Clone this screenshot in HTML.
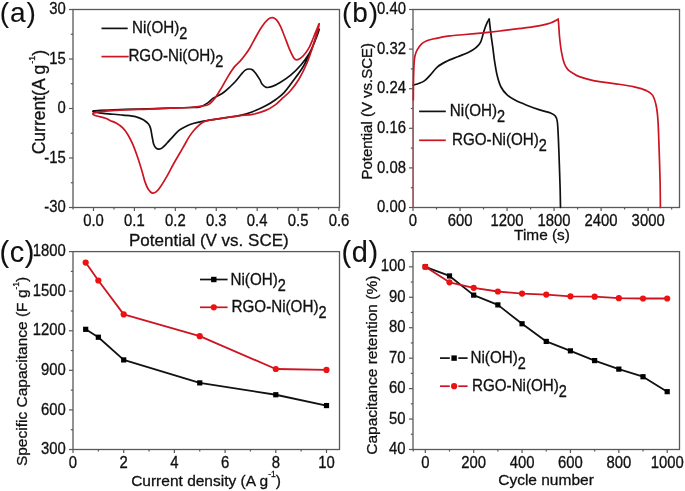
<!DOCTYPE html>
<html><head><meta charset="utf-8"><style>
html,body{margin:0;padding:0;background:#fff;overflow:hidden;}
svg{display:block;will-change:transform;}
text{font-family:"Liberation Sans", sans-serif;fill:#111;stroke:#111;stroke-width:0.3px;}
</style></head><body>
<svg width="685" height="491" viewBox="0 0 685 491">
<rect width="685" height="491" fill="#fff"/>
<rect x="73.00" y="9.50" width="266.50" height="198.00" fill="none" stroke="#595959" stroke-width="1.3"/>
<rect x="413.00" y="9.50" width="266.50" height="198.00" fill="none" stroke="#595959" stroke-width="1.3"/>
<rect x="73.00" y="251.60" width="266.50" height="197.90" fill="none" stroke="#595959" stroke-width="1.3"/>
<rect x="413.00" y="251.60" width="266.50" height="197.90" fill="none" stroke="#595959" stroke-width="1.3"/>
<path d="M93.50,110.80 C94.62,110.57 97.25,110.53 100.00,110.40 C102.75,110.27 105.83,110.17 110.00,110.00 C114.17,109.83 118.67,109.58 125.00,109.40 C131.33,109.22 140.50,109.10 148.00,108.90 C155.50,108.70 163.00,108.43 170.00,108.20 C177.00,107.97 185.00,107.72 190.00,107.50 C195.00,107.28 197.08,107.63 200.00,106.90 C202.92,106.17 205.37,104.52 207.50,103.10 C209.63,101.68 210.97,99.65 212.80,98.40 C214.63,97.15 216.60,96.67 218.50,95.60 C220.40,94.53 222.30,93.43 224.20,92.00 C226.10,90.57 228.00,88.78 229.90,87.00 C231.80,85.22 233.70,83.43 235.60,81.30 C237.50,79.17 239.63,76.10 241.30,74.20 C242.97,72.30 244.28,70.77 245.60,69.90 C246.92,69.03 248.02,68.98 249.20,69.00 C250.38,69.02 251.52,69.13 252.70,70.00 C253.88,70.87 255.08,72.55 256.30,74.20 C257.52,75.85 259.02,78.22 260.00,79.90 C260.98,81.58 261.15,83.05 262.20,84.30 C263.25,85.55 264.60,87.05 266.30,87.40 C268.00,87.75 270.03,87.25 272.40,86.40 C274.77,85.55 277.45,84.17 280.50,82.30 C283.55,80.43 287.30,78.08 290.70,75.20 C294.10,72.32 297.83,68.57 300.90,65.00 C303.97,61.43 306.72,57.88 309.10,53.80 C311.48,49.72 313.52,44.58 315.20,40.50 C316.88,36.42 319.03,29.97 319.20,29.30 C319.37,28.63 317.55,32.93 316.20,36.50 C314.85,40.07 313.30,45.62 311.10,50.70 C308.90,55.78 306.05,61.90 303.00,67.00 C299.95,72.10 295.95,77.03 292.80,81.30 C289.65,85.57 286.87,89.62 284.10,92.60 C281.33,95.58 279.27,97.00 276.20,99.20 C273.13,101.40 269.63,103.72 265.70,105.80 C261.77,107.88 256.98,110.07 252.60,111.70 C248.22,113.33 243.78,114.62 239.40,115.60 C235.02,116.58 230.68,116.93 226.30,117.60 C221.92,118.27 217.27,118.93 213.10,119.60 C208.93,120.27 204.48,121.00 201.30,121.60 C198.12,122.20 196.43,122.48 194.00,123.20 C191.57,123.92 189.15,124.73 186.70,125.90 C184.25,127.07 181.55,128.47 179.30,130.20 C177.05,131.93 175.23,134.17 173.20,136.30 C171.17,138.43 168.93,141.07 167.10,143.00 C165.27,144.93 163.52,146.88 162.20,147.90 C160.88,148.92 160.22,149.07 159.20,149.10 C158.18,149.13 157.02,148.92 156.10,148.10 C155.18,147.28 154.35,146.05 153.70,144.20 C153.05,142.35 152.72,139.62 152.20,137.00 C151.68,134.38 151.22,130.67 150.60,128.50 C149.98,126.33 149.60,125.38 148.50,124.00 C147.40,122.62 146.05,121.40 144.00,120.20 C141.95,119.00 139.70,117.65 136.20,116.80 C132.70,115.95 128.12,115.63 123.00,115.10 C117.88,114.57 110.00,114.05 105.50,113.60 C101.00,113.15 98.03,112.70 96.00,112.40 C93.97,112.10 93.72,112.07 93.30,111.80 C92.88,111.53 92.38,111.03 93.50,110.80Z" fill="none" stroke="#111" stroke-width="1.7" stroke-linejoin="round" stroke-linecap="round" />
<path d="M93.40,113.30 C94.02,112.90 94.98,112.57 97.00,112.20 C99.02,111.83 100.83,111.50 105.50,111.10 C110.17,110.70 117.92,110.13 125.00,109.80 C132.08,109.47 140.50,109.37 148.00,109.10 C155.50,108.83 163.00,108.47 170.00,108.20 C177.00,107.93 185.00,107.80 190.00,107.50 C195.00,107.20 197.23,106.77 200.00,106.40 C202.77,106.03 204.93,105.77 206.60,105.30 C208.27,104.83 208.72,104.63 210.00,103.60 C211.28,102.57 212.88,100.92 214.30,99.10 C215.72,97.28 217.08,94.95 218.50,92.70 C219.92,90.45 221.13,88.45 222.80,85.60 C224.47,82.75 226.60,78.68 228.50,75.60 C230.40,72.52 232.30,69.47 234.20,67.10 C236.10,64.73 238.00,63.53 239.90,61.40 C241.80,59.27 243.92,56.58 245.60,54.30 C247.28,52.02 248.25,50.67 250.00,47.70 C251.75,44.73 254.07,40.07 256.10,36.50 C258.13,32.93 260.17,29.18 262.20,26.30 C264.23,23.42 266.60,20.65 268.30,19.20 C270.00,17.75 271.03,17.50 272.40,17.60 C273.77,17.70 275.15,18.35 276.50,19.80 C277.85,21.25 279.15,23.52 280.50,26.30 C281.85,29.08 283.07,32.60 284.60,36.50 C286.13,40.40 288.17,46.13 289.70,49.70 C291.23,53.27 292.62,56.20 293.80,57.90 C294.98,59.60 295.62,59.90 296.80,59.90 C297.98,59.90 299.53,58.92 300.90,57.90 C302.27,56.88 303.63,55.50 305.00,53.80 C306.37,52.10 307.75,50.25 309.10,47.70 C310.45,45.15 311.75,41.73 313.10,38.50 C314.45,35.27 316.18,30.75 317.20,28.30 C318.22,25.85 319.20,23.12 319.20,23.80 C319.20,24.48 318.22,28.77 317.20,32.40 C316.18,36.03 314.80,40.50 313.10,45.60 C311.40,50.70 309.37,57.40 307.00,63.00 C304.63,68.60 301.73,74.48 298.90,79.20 C296.07,83.92 292.68,88.18 290.00,91.30 C287.32,94.42 285.32,95.60 282.80,97.90 C280.28,100.20 277.75,103.02 274.90,105.10 C272.05,107.18 269.42,108.87 265.70,110.40 C261.98,111.93 256.98,113.43 252.60,114.30 C248.22,115.17 243.78,115.05 239.40,115.60 C235.02,116.15 230.68,116.93 226.30,117.60 C221.92,118.27 216.48,119.03 213.10,119.60 C209.72,120.17 207.93,120.40 206.00,121.00 C204.07,121.60 202.68,122.48 201.50,123.20 C200.32,123.92 200.15,124.13 198.90,125.30 C197.65,126.47 195.63,128.27 194.00,130.20 C192.37,132.13 190.73,134.35 189.10,136.90 C187.47,139.45 185.83,142.65 184.20,145.50 C182.57,148.35 181.08,150.92 179.30,154.00 C177.52,157.08 175.55,160.30 173.50,164.00 C171.45,167.70 169.17,172.40 167.00,176.20 C164.83,180.00 162.27,184.22 160.50,186.80 C158.73,189.38 157.77,190.65 156.40,191.70 C155.03,192.75 153.65,193.52 152.30,193.10 C150.95,192.68 149.52,191.07 148.30,189.20 C147.08,187.33 146.08,185.02 145.00,181.90 C143.92,178.78 143.02,174.57 141.80,170.50 C140.58,166.43 139.20,161.85 137.70,157.50 C136.20,153.15 134.43,148.20 132.80,144.40 C131.17,140.60 129.53,137.42 127.90,134.70 C126.27,131.98 124.90,130.00 123.00,128.10 C121.10,126.20 118.67,124.57 116.50,123.30 C114.33,122.03 111.83,121.35 110.00,120.50 C108.17,119.65 107.70,118.95 105.50,118.20 C103.30,117.45 98.83,116.60 96.80,116.00 C94.77,115.40 93.87,115.05 93.30,114.60 C92.73,114.15 92.78,113.70 93.40,113.30Z" fill="none" stroke="#cc1422" stroke-width="1.7" stroke-linejoin="round" stroke-linecap="round" />
<line x1="69.00" y1="9.50" x2="73.00" y2="9.50" stroke="#595959" stroke-width="1.2" />
<text transform="translate(65.70,14.10) scale(0.965,1.12)" font-size="15.4" text-anchor="end" >30</text>
<line x1="69.00" y1="59.00" x2="73.00" y2="59.00" stroke="#595959" stroke-width="1.2" />
<text transform="translate(65.70,63.60) scale(0.965,1.12)" font-size="15.4" text-anchor="end" >15</text>
<line x1="69.00" y1="108.50" x2="73.00" y2="108.50" stroke="#595959" stroke-width="1.2" />
<text transform="translate(65.70,113.10) scale(0.965,1.12)" font-size="15.4" text-anchor="end" >0</text>
<line x1="69.00" y1="158.00" x2="73.00" y2="158.00" stroke="#595959" stroke-width="1.2" />
<text transform="translate(65.70,162.60) scale(0.965,1.12)" font-size="15.4" text-anchor="end" >-15</text>
<line x1="69.00" y1="207.50" x2="73.00" y2="207.50" stroke="#595959" stroke-width="1.2" />
<text transform="translate(65.70,212.10) scale(0.965,1.12)" font-size="15.4" text-anchor="end" >-30</text>
<line x1="70.80" y1="34.25" x2="73.00" y2="34.25" stroke="#595959" stroke-width="1.2" />
<line x1="70.80" y1="83.75" x2="73.00" y2="83.75" stroke="#595959" stroke-width="1.2" />
<line x1="70.80" y1="133.25" x2="73.00" y2="133.25" stroke="#595959" stroke-width="1.2" />
<line x1="70.80" y1="182.75" x2="73.00" y2="182.75" stroke="#595959" stroke-width="1.2" />
<line x1="93.50" y1="207.50" x2="93.50" y2="211.00" stroke="#595959" stroke-width="1.2" />
<text transform="translate(93.50,225.80) scale(0.965,1.12)" font-size="15.4" text-anchor="middle" >0.0</text>
<line x1="134.42" y1="207.50" x2="134.42" y2="211.00" stroke="#595959" stroke-width="1.2" />
<text transform="translate(134.42,225.80) scale(0.965,1.12)" font-size="15.4" text-anchor="middle" >0.1</text>
<line x1="175.34" y1="207.50" x2="175.34" y2="211.00" stroke="#595959" stroke-width="1.2" />
<text transform="translate(175.34,225.80) scale(0.965,1.12)" font-size="15.4" text-anchor="middle" >0.2</text>
<line x1="216.26" y1="207.50" x2="216.26" y2="211.00" stroke="#595959" stroke-width="1.2" />
<text transform="translate(216.26,225.80) scale(0.965,1.12)" font-size="15.4" text-anchor="middle" >0.3</text>
<line x1="257.18" y1="207.50" x2="257.18" y2="211.00" stroke="#595959" stroke-width="1.2" />
<text transform="translate(257.18,225.80) scale(0.965,1.12)" font-size="15.4" text-anchor="middle" >0.4</text>
<line x1="298.10" y1="207.50" x2="298.10" y2="211.00" stroke="#595959" stroke-width="1.2" />
<text transform="translate(298.10,225.80) scale(0.965,1.12)" font-size="15.4" text-anchor="middle" >0.5</text>
<line x1="339.02" y1="207.50" x2="339.02" y2="211.00" stroke="#595959" stroke-width="1.2" />
<text transform="translate(339.02,225.80) scale(0.965,1.12)" font-size="15.4" text-anchor="middle" >0.6</text>
<line x1="73.04" y1="207.50" x2="73.04" y2="209.50" stroke="#595959" stroke-width="1.2" />
<line x1="113.96" y1="207.50" x2="113.96" y2="209.50" stroke="#595959" stroke-width="1.2" />
<line x1="154.88" y1="207.50" x2="154.88" y2="209.50" stroke="#595959" stroke-width="1.2" />
<line x1="195.80" y1="207.50" x2="195.80" y2="209.50" stroke="#595959" stroke-width="1.2" />
<line x1="236.72" y1="207.50" x2="236.72" y2="209.50" stroke="#595959" stroke-width="1.2" />
<line x1="277.64" y1="207.50" x2="277.64" y2="209.50" stroke="#595959" stroke-width="1.2" />
<line x1="318.56" y1="207.50" x2="318.56" y2="209.50" stroke="#595959" stroke-width="1.2" />
<text x="-0.30" y="21.80" font-size="28" text-anchor="start" letter-spacing="0.9" style="stroke-width:0.1px">(a)</text>
<text x="129.00" y="245.50" font-size="17" text-anchor="start" >Potential (V vs. SCE)</text>
<text transform="translate(45.3,154.3) rotate(-90)" font-size="17.5">Current(A g<tspan font-size="9" dy="-10" dx="1">-1</tspan><tspan dy="10">)</tspan></text>
<line x1="101.50" y1="28.40" x2="127.70" y2="28.40" stroke="#111" stroke-width="1.7" />
<text transform="translate(132.00,33.20) scale(1,1.08)" font-size="15.2">Ni(OH)<tspan font-size="14.5" dy="5.6">2</tspan></text>
<line x1="101.50" y1="56.60" x2="128.70" y2="56.60" stroke="#cc1422" stroke-width="1.7" />
<text transform="translate(128.40,61.20) scale(1,1.08)" font-size="15.2">RGO-Ni(OH)<tspan font-size="14.5" dy="5.6">2</tspan></text>
<path d="M413.30,85.10 C414.28,84.80 417.30,84.05 419.20,83.30 C421.10,82.55 422.87,81.97 424.70,80.60 C426.53,79.23 428.07,77.40 430.20,75.10 C432.33,72.80 434.75,69.10 437.50,66.80 C440.25,64.50 443.33,62.98 446.70,61.30 C450.07,59.62 454.03,58.22 457.70,56.70 C461.37,55.18 465.65,53.72 468.70,52.20 C471.75,50.68 474.02,49.28 476.00,47.60 C477.98,45.92 479.23,45.00 480.60,42.10 C481.97,39.20 483.13,33.42 484.20,30.20 C485.27,26.98 486.17,24.63 487.00,22.80 C487.83,20.97 488.83,19.80 489.20,19.20" fill="none" stroke="#111" stroke-width="1.7" stroke-linejoin="round" stroke-linecap="round" />
<path d="M489.20,19.20 C489.48,21.63 490.32,29.22 490.90,33.80 C491.48,38.38 492.08,42.12 492.70,46.70 C493.32,51.28 493.83,56.42 494.60,61.30 C495.37,66.18 496.23,71.72 497.30,76.00 C498.37,80.28 499.37,83.85 501.00,87.00 C502.63,90.15 504.85,92.77 507.10,94.90 C509.35,97.03 511.23,98.08 514.50,99.80 C517.77,101.52 522.63,103.57 526.70,105.20 C530.77,106.83 534.83,108.27 538.90,109.60 C542.97,110.93 548.37,112.15 551.10,113.20 C553.83,114.25 554.27,114.52 555.30,115.90 C556.33,117.28 556.78,117.67 557.30,121.50 C557.82,125.33 558.07,131.92 558.40,138.90 C558.73,145.88 559.02,155.25 559.30,163.40 C559.58,171.55 559.90,180.45 560.10,187.80 C560.30,195.15 560.43,204.22 560.50,207.50" fill="none" stroke="#111" stroke-width="1.7" stroke-linejoin="round" stroke-linecap="round" />
<path d="M413.30,100.00 C413.35,95.83 413.40,81.92 413.60,75.00 C413.80,68.08 414.02,62.47 414.50,58.50 C414.98,54.53 415.75,53.10 416.50,51.20 C417.25,49.30 418.05,48.40 419.00,47.10 C419.95,45.80 420.98,44.42 422.20,43.40 C423.42,42.38 424.53,41.73 426.30,41.00 C428.07,40.27 430.35,39.62 432.80,39.00 C435.25,38.38 438.13,37.82 441.00,37.30 C443.87,36.78 446.00,36.37 450.00,35.90 C454.00,35.43 459.45,35.02 465.00,34.50 C470.55,33.98 477.47,33.38 483.30,32.80 C489.13,32.22 495.83,31.48 500.00,31.00 C504.17,30.52 503.85,30.47 508.30,29.90 C512.75,29.33 521.20,28.37 526.70,27.60 C532.20,26.83 537.33,26.07 541.30,25.30 C545.27,24.53 547.68,24.02 550.50,23.00 C553.32,21.98 556.92,19.83 558.20,19.20" fill="none" stroke="#cc1422" stroke-width="1.7" stroke-linejoin="round" stroke-linecap="round" />
<line x1="413.20" y1="207.50" x2="413.25" y2="100.00" stroke="#d84050" stroke-width="1.1" />
<path d="M558.20,19.20 C558.28,20.12 558.47,21.65 558.70,24.70 C558.93,27.75 559.13,32.92 559.60,37.50 C560.07,42.08 560.73,47.92 561.50,52.20 C562.27,56.48 563.13,60.30 564.20,63.20 C565.27,66.10 566.22,67.78 567.90,69.60 C569.58,71.42 572.28,72.88 574.30,74.10 C576.32,75.32 576.65,75.78 580.00,76.90 C583.35,78.02 588.43,79.65 594.40,80.80 C600.37,81.95 609.17,82.78 615.80,83.80 C622.43,84.82 629.10,85.77 634.20,86.90 C639.30,88.03 643.35,89.23 646.40,90.60 C649.45,91.97 650.87,92.57 652.50,95.10 C654.13,97.63 655.28,101.47 656.20,105.80 C657.12,110.13 657.50,113.45 658.00,121.10 C658.50,128.75 658.85,141.52 659.20,151.70 C659.55,161.88 659.90,172.90 660.10,182.20 C660.30,191.50 660.35,203.28 660.40,207.50" fill="none" stroke="#cc1422" stroke-width="1.7" stroke-linejoin="round" stroke-linecap="round" />
<line x1="409.00" y1="207.50" x2="413.00" y2="207.50" stroke="#595959" stroke-width="1.2" />
<text transform="translate(406.00,212.10) scale(0.965,1.12)" font-size="15.4" text-anchor="end" >0.00</text>
<line x1="409.00" y1="167.90" x2="413.00" y2="167.90" stroke="#595959" stroke-width="1.2" />
<text transform="translate(406.00,172.50) scale(0.965,1.12)" font-size="15.4" text-anchor="end" >0.08</text>
<line x1="409.00" y1="128.30" x2="413.00" y2="128.30" stroke="#595959" stroke-width="1.2" />
<text transform="translate(406.00,132.90) scale(0.965,1.12)" font-size="15.4" text-anchor="end" >0.16</text>
<line x1="409.00" y1="88.70" x2="413.00" y2="88.70" stroke="#595959" stroke-width="1.2" />
<text transform="translate(406.00,93.30) scale(0.965,1.12)" font-size="15.4" text-anchor="end" >0.24</text>
<line x1="409.00" y1="49.10" x2="413.00" y2="49.10" stroke="#595959" stroke-width="1.2" />
<text transform="translate(406.00,53.70) scale(0.965,1.12)" font-size="15.4" text-anchor="end" >0.32</text>
<line x1="409.00" y1="9.50" x2="413.00" y2="9.50" stroke="#595959" stroke-width="1.2" />
<text transform="translate(406.00,14.10) scale(0.965,1.12)" font-size="15.4" text-anchor="end" >0.40</text>
<line x1="410.80" y1="187.70" x2="413.00" y2="187.70" stroke="#595959" stroke-width="1.2" />
<line x1="410.80" y1="148.10" x2="413.00" y2="148.10" stroke="#595959" stroke-width="1.2" />
<line x1="410.80" y1="108.50" x2="413.00" y2="108.50" stroke="#595959" stroke-width="1.2" />
<line x1="410.80" y1="68.90" x2="413.00" y2="68.90" stroke="#595959" stroke-width="1.2" />
<line x1="410.80" y1="29.30" x2="413.00" y2="29.30" stroke="#595959" stroke-width="1.2" />
<line x1="413.00" y1="207.50" x2="413.00" y2="211.00" stroke="#595959" stroke-width="1.2" />
<text transform="translate(413.00,225.80) scale(0.965,1.12)" font-size="15.4" text-anchor="middle" >0</text>
<line x1="460.03" y1="207.50" x2="460.03" y2="211.00" stroke="#595959" stroke-width="1.2" />
<text transform="translate(460.03,225.80) scale(0.965,1.12)" font-size="15.4" text-anchor="middle" >600</text>
<line x1="507.06" y1="207.50" x2="507.06" y2="211.00" stroke="#595959" stroke-width="1.2" />
<text transform="translate(507.06,225.80) scale(0.965,1.12)" font-size="15.4" text-anchor="middle" >1200</text>
<line x1="554.08" y1="207.50" x2="554.08" y2="211.00" stroke="#595959" stroke-width="1.2" />
<text transform="translate(554.08,225.80) scale(0.965,1.12)" font-size="15.4" text-anchor="middle" >1800</text>
<line x1="601.11" y1="207.50" x2="601.11" y2="211.00" stroke="#595959" stroke-width="1.2" />
<text transform="translate(601.11,225.80) scale(0.965,1.12)" font-size="15.4" text-anchor="middle" >2400</text>
<line x1="648.14" y1="207.50" x2="648.14" y2="211.00" stroke="#595959" stroke-width="1.2" />
<text transform="translate(648.14,225.80) scale(0.965,1.12)" font-size="15.4" text-anchor="middle" >3000</text>
<line x1="436.51" y1="207.50" x2="436.51" y2="209.50" stroke="#595959" stroke-width="1.2" />
<line x1="483.54" y1="207.50" x2="483.54" y2="209.50" stroke="#595959" stroke-width="1.2" />
<line x1="530.57" y1="207.50" x2="530.57" y2="209.50" stroke="#595959" stroke-width="1.2" />
<line x1="577.60" y1="207.50" x2="577.60" y2="209.50" stroke="#595959" stroke-width="1.2" />
<line x1="624.63" y1="207.50" x2="624.63" y2="209.50" stroke="#595959" stroke-width="1.2" />
<line x1="671.65" y1="207.50" x2="671.65" y2="209.50" stroke="#595959" stroke-width="1.2" />
<text x="342.00" y="21.80" font-size="28" text-anchor="start" letter-spacing="0.9" style="stroke-width:0.1px">(b)</text>
<text x="542.00" y="240.00" font-size="15.4" text-anchor="middle" >Time (s)</text>
<text transform="translate(372,179.6) rotate(-90)" font-size="15">Potential (V vs.SCE)</text>
<line x1="419.10" y1="111.40" x2="445.80" y2="111.40" stroke="#111" stroke-width="1.7" />
<text transform="translate(449.80,116.20) scale(1,1.08)" font-size="15.2">Ni(OH)<tspan font-size="14.5" dy="5.6">2</tspan></text>
<line x1="419.10" y1="140.30" x2="445.80" y2="140.30" stroke="#cc1422" stroke-width="1.7" />
<text transform="translate(452.00,144.90) scale(1,1.08)" font-size="15.2">RGO-Ni(OH)<tspan font-size="14.5" dy="5.6">2</tspan></text>
<polyline points="85.67,329.31 98.35,337.23 123.70,359.92 199.75,382.88 275.80,394.75 326.50,405.57" fill="none" stroke="#111" stroke-width="1.8" stroke-linejoin="round" stroke-linecap="round" />
<polyline points="85.67,262.56 98.35,280.50 123.70,314.40 199.75,336.17 275.80,369.02 326.50,369.95" fill="none" stroke="#cc1422" stroke-width="1.8" stroke-linejoin="round" stroke-linecap="round" />
<rect x="83.08" y="326.71" width="5.2" height="5.2" fill="#000"/>
<rect x="95.75" y="334.63" width="5.2" height="5.2" fill="#000"/>
<rect x="121.10" y="357.32" width="5.2" height="5.2" fill="#000"/>
<rect x="197.15" y="380.28" width="5.2" height="5.2" fill="#000"/>
<rect x="273.20" y="392.15" width="5.2" height="5.2" fill="#000"/>
<rect x="323.90" y="402.97" width="5.2" height="5.2" fill="#000"/>
<circle cx="85.67" cy="262.56" r="3.1" fill="#ee1111"/>
<circle cx="98.35" cy="280.50" r="3.1" fill="#ee1111"/>
<circle cx="123.70" cy="314.40" r="3.1" fill="#ee1111"/>
<circle cx="199.75" cy="336.17" r="3.1" fill="#ee1111"/>
<circle cx="275.80" cy="369.02" r="3.1" fill="#ee1111"/>
<circle cx="326.50" cy="369.95" r="3.1" fill="#ee1111"/>
<line x1="69.00" y1="449.50" x2="73.00" y2="449.50" stroke="#595959" stroke-width="1.2" />
<text transform="translate(65.70,454.10) scale(0.965,1.12)" font-size="15.4" text-anchor="end" >300</text>
<line x1="69.00" y1="409.92" x2="73.00" y2="409.92" stroke="#595959" stroke-width="1.2" />
<text transform="translate(65.70,414.52) scale(0.965,1.12)" font-size="15.4" text-anchor="end" >600</text>
<line x1="69.00" y1="370.34" x2="73.00" y2="370.34" stroke="#595959" stroke-width="1.2" />
<text transform="translate(65.70,374.94) scale(0.965,1.12)" font-size="15.4" text-anchor="end" >900</text>
<line x1="69.00" y1="330.76" x2="73.00" y2="330.76" stroke="#595959" stroke-width="1.2" />
<text transform="translate(65.70,335.36) scale(0.965,1.12)" font-size="15.4" text-anchor="end" >1200</text>
<line x1="69.00" y1="291.18" x2="73.00" y2="291.18" stroke="#595959" stroke-width="1.2" />
<text transform="translate(65.70,295.78) scale(0.965,1.12)" font-size="15.4" text-anchor="end" >1500</text>
<line x1="69.00" y1="251.61" x2="73.00" y2="251.61" stroke="#595959" stroke-width="1.2" />
<text transform="translate(65.70,256.21) scale(0.965,1.12)" font-size="15.4" text-anchor="end" >1800</text>
<line x1="70.80" y1="429.71" x2="73.00" y2="429.71" stroke="#595959" stroke-width="1.2" />
<line x1="70.80" y1="390.13" x2="73.00" y2="390.13" stroke="#595959" stroke-width="1.2" />
<line x1="70.80" y1="350.55" x2="73.00" y2="350.55" stroke="#595959" stroke-width="1.2" />
<line x1="70.80" y1="310.97" x2="73.00" y2="310.97" stroke="#595959" stroke-width="1.2" />
<line x1="70.80" y1="271.39" x2="73.00" y2="271.39" stroke="#595959" stroke-width="1.2" />
<line x1="73.00" y1="449.50" x2="73.00" y2="453.00" stroke="#595959" stroke-width="1.2" />
<text transform="translate(73.00,468.30) scale(0.965,1.12)" font-size="15.4" text-anchor="middle" >0</text>
<line x1="123.70" y1="449.50" x2="123.70" y2="453.00" stroke="#595959" stroke-width="1.2" />
<text transform="translate(123.70,468.30) scale(0.965,1.12)" font-size="15.4" text-anchor="middle" >2</text>
<line x1="174.40" y1="449.50" x2="174.40" y2="453.00" stroke="#595959" stroke-width="1.2" />
<text transform="translate(174.40,468.30) scale(0.965,1.12)" font-size="15.4" text-anchor="middle" >4</text>
<line x1="225.10" y1="449.50" x2="225.10" y2="453.00" stroke="#595959" stroke-width="1.2" />
<text transform="translate(225.10,468.30) scale(0.965,1.12)" font-size="15.4" text-anchor="middle" >6</text>
<line x1="275.80" y1="449.50" x2="275.80" y2="453.00" stroke="#595959" stroke-width="1.2" />
<text transform="translate(275.80,468.30) scale(0.965,1.12)" font-size="15.4" text-anchor="middle" >8</text>
<line x1="326.50" y1="449.50" x2="326.50" y2="453.00" stroke="#595959" stroke-width="1.2" />
<text transform="translate(326.50,468.30) scale(0.965,1.12)" font-size="15.4" text-anchor="middle" >10</text>
<line x1="98.35" y1="449.50" x2="98.35" y2="451.50" stroke="#595959" stroke-width="1.2" />
<line x1="149.05" y1="449.50" x2="149.05" y2="451.50" stroke="#595959" stroke-width="1.2" />
<line x1="199.75" y1="449.50" x2="199.75" y2="451.50" stroke="#595959" stroke-width="1.2" />
<line x1="250.45" y1="449.50" x2="250.45" y2="451.50" stroke="#595959" stroke-width="1.2" />
<line x1="301.15" y1="449.50" x2="301.15" y2="451.50" stroke="#595959" stroke-width="1.2" />
<text x="-0.50" y="262.40" font-size="29" text-anchor="start" letter-spacing="0.6" style="stroke-width:0.1px">(c)</text>
<text x="206" y="485.8" font-size="15.5" text-anchor="middle">Current density (A g<tspan font-size="8.5" dy="-8.5">-1</tspan><tspan dy="8.5">)</tspan></text>
<text transform="translate(27,466.1) rotate(-90)" font-size="15.5">Specific Capacitance (F g<tspan font-size="8.5" dy="-8.5">-1</tspan><tspan dy="8.5">)</tspan></text>
<line x1="200.00" y1="279.50" x2="227.60" y2="279.50" stroke="#111" stroke-width="1.7" />
<rect x="211.10" y="276.80" width="5.4" height="5.4" fill="#000"/>
<text transform="translate(230.50,284.70) scale(1,1.08)" font-size="15.2">Ni(OH)<tspan font-size="14.5" dy="5.6">2</tspan></text>
<line x1="200.00" y1="307.30" x2="227.60" y2="307.30" stroke="#cc1422" stroke-width="1.7" />
<circle cx="213.8" cy="307.3" r="3.1" fill="#ee1111"/>
<text transform="translate(231.60,312.10) scale(1,1.08)" font-size="15.2">RGO-Ni(OH)<tspan font-size="14.5" dy="5.6">2</tspan></text>
<polyline points="425.30,266.82 449.49,275.96 473.68,295.14 497.87,304.88 522.06,323.76 546.25,341.42 570.44,350.85 594.63,360.60 618.82,369.12 643.01,376.73 667.20,391.65" fill="none" stroke="#111" stroke-width="1.8" stroke-linejoin="round" stroke-linecap="round" />
<polyline points="425.30,266.82 449.49,282.35 473.68,287.83 497.87,291.49 522.06,293.62 546.25,294.53 570.44,296.36 594.63,296.66 618.82,298.18 643.01,298.49 667.20,298.49" fill="none" stroke="#cc1422" stroke-width="1.8" stroke-linejoin="round" stroke-linecap="round" />
<rect x="422.70" y="264.22" width="5.2" height="5.2" fill="#000"/>
<rect x="446.89" y="273.36" width="5.2" height="5.2" fill="#000"/>
<rect x="471.08" y="292.54" width="5.2" height="5.2" fill="#000"/>
<rect x="495.27" y="302.28" width="5.2" height="5.2" fill="#000"/>
<rect x="519.46" y="321.16" width="5.2" height="5.2" fill="#000"/>
<rect x="543.65" y="338.82" width="5.2" height="5.2" fill="#000"/>
<rect x="567.84" y="348.25" width="5.2" height="5.2" fill="#000"/>
<rect x="592.03" y="358.00" width="5.2" height="5.2" fill="#000"/>
<rect x="616.22" y="366.52" width="5.2" height="5.2" fill="#000"/>
<rect x="640.41" y="374.13" width="5.2" height="5.2" fill="#000"/>
<rect x="664.60" y="389.05" width="5.2" height="5.2" fill="#000"/>
<circle cx="425.30" cy="266.82" r="3.1" fill="#ee1111"/>
<circle cx="449.49" cy="282.35" r="3.1" fill="#ee1111"/>
<circle cx="473.68" cy="287.83" r="3.1" fill="#ee1111"/>
<circle cx="497.87" cy="291.49" r="3.1" fill="#ee1111"/>
<circle cx="522.06" cy="293.62" r="3.1" fill="#ee1111"/>
<circle cx="546.25" cy="294.53" r="3.1" fill="#ee1111"/>
<circle cx="570.44" cy="296.36" r="3.1" fill="#ee1111"/>
<circle cx="594.63" cy="296.66" r="3.1" fill="#ee1111"/>
<circle cx="618.82" cy="298.18" r="3.1" fill="#ee1111"/>
<circle cx="643.01" cy="298.49" r="3.1" fill="#ee1111"/>
<circle cx="667.20" cy="298.49" r="3.1" fill="#ee1111"/>
<line x1="409.00" y1="449.50" x2="413.00" y2="449.50" stroke="#595959" stroke-width="1.2" />
<text transform="translate(405.50,454.10) scale(0.965,1.12)" font-size="15.4" text-anchor="end" >40</text>
<line x1="409.00" y1="419.05" x2="413.00" y2="419.05" stroke="#595959" stroke-width="1.2" />
<text transform="translate(405.50,423.65) scale(0.965,1.12)" font-size="15.4" text-anchor="end" >50</text>
<line x1="409.00" y1="388.61" x2="413.00" y2="388.61" stroke="#595959" stroke-width="1.2" />
<text transform="translate(405.50,393.21) scale(0.965,1.12)" font-size="15.4" text-anchor="end" >60</text>
<line x1="409.00" y1="358.16" x2="413.00" y2="358.16" stroke="#595959" stroke-width="1.2" />
<text transform="translate(405.50,362.76) scale(0.965,1.12)" font-size="15.4" text-anchor="end" >70</text>
<line x1="409.00" y1="327.72" x2="413.00" y2="327.72" stroke="#595959" stroke-width="1.2" />
<text transform="translate(405.50,332.32) scale(0.965,1.12)" font-size="15.4" text-anchor="end" >80</text>
<line x1="409.00" y1="297.27" x2="413.00" y2="297.27" stroke="#595959" stroke-width="1.2" />
<text transform="translate(405.50,301.87) scale(0.965,1.12)" font-size="15.4" text-anchor="end" >90</text>
<line x1="409.00" y1="266.82" x2="413.00" y2="266.82" stroke="#595959" stroke-width="1.2" />
<text transform="translate(405.50,271.42) scale(0.965,1.12)" font-size="15.4" text-anchor="end" >100</text>
<line x1="410.80" y1="434.28" x2="413.00" y2="434.28" stroke="#595959" stroke-width="1.2" />
<line x1="410.80" y1="403.83" x2="413.00" y2="403.83" stroke="#595959" stroke-width="1.2" />
<line x1="410.80" y1="373.38" x2="413.00" y2="373.38" stroke="#595959" stroke-width="1.2" />
<line x1="410.80" y1="342.94" x2="413.00" y2="342.94" stroke="#595959" stroke-width="1.2" />
<line x1="410.80" y1="312.49" x2="413.00" y2="312.49" stroke="#595959" stroke-width="1.2" />
<line x1="410.80" y1="282.05" x2="413.00" y2="282.05" stroke="#595959" stroke-width="1.2" />
<line x1="410.80" y1="251.60" x2="413.00" y2="251.60" stroke="#595959" stroke-width="1.2" />
<line x1="425.30" y1="449.50" x2="425.30" y2="453.00" stroke="#595959" stroke-width="1.2" />
<text transform="translate(425.30,468.00) scale(0.965,1.12)" font-size="15.4" text-anchor="middle" >0</text>
<line x1="473.68" y1="449.50" x2="473.68" y2="453.00" stroke="#595959" stroke-width="1.2" />
<text transform="translate(473.68,468.00) scale(0.965,1.12)" font-size="15.4" text-anchor="middle" >200</text>
<line x1="522.06" y1="449.50" x2="522.06" y2="453.00" stroke="#595959" stroke-width="1.2" />
<text transform="translate(522.06,468.00) scale(0.965,1.12)" font-size="15.4" text-anchor="middle" >400</text>
<line x1="570.44" y1="449.50" x2="570.44" y2="453.00" stroke="#595959" stroke-width="1.2" />
<text transform="translate(570.44,468.00) scale(0.965,1.12)" font-size="15.4" text-anchor="middle" >600</text>
<line x1="618.82" y1="449.50" x2="618.82" y2="453.00" stroke="#595959" stroke-width="1.2" />
<text transform="translate(618.82,468.00) scale(0.965,1.12)" font-size="15.4" text-anchor="middle" >800</text>
<line x1="667.20" y1="449.50" x2="667.20" y2="453.00" stroke="#595959" stroke-width="1.2" />
<text transform="translate(667.20,468.00) scale(0.965,1.12)" font-size="15.4" text-anchor="middle" >1000</text>
<line x1="413.21" y1="449.50" x2="413.21" y2="451.50" stroke="#595959" stroke-width="1.2" />
<line x1="449.49" y1="449.50" x2="449.49" y2="451.50" stroke="#595959" stroke-width="1.2" />
<line x1="497.87" y1="449.50" x2="497.87" y2="451.50" stroke="#595959" stroke-width="1.2" />
<line x1="546.25" y1="449.50" x2="546.25" y2="451.50" stroke="#595959" stroke-width="1.2" />
<line x1="594.63" y1="449.50" x2="594.63" y2="451.50" stroke="#595959" stroke-width="1.2" />
<line x1="643.01" y1="449.50" x2="643.01" y2="451.50" stroke="#595959" stroke-width="1.2" />
<text x="341.60" y="262.40" font-size="29" text-anchor="start" letter-spacing="0.6" style="stroke-width:0.1px">(d)</text>
<text x="546.00" y="484.50" font-size="15.5" text-anchor="middle" >Cycle number</text>
<text transform="translate(377,454.8) rotate(-90)" font-size="15.5">Capacitance retention (%)</text>
<line x1="440.00" y1="358.10" x2="449.80" y2="358.10" stroke="#111" stroke-width="1.7" />
<line x1="458.30" y1="358.10" x2="467.60" y2="358.10" stroke="#111" stroke-width="1.7" />
<rect x="451.40" y="355.40" width="5.4" height="5.4" fill="#000"/>
<text transform="translate(470.50,363.20) scale(1,1.08)" font-size="15.2">Ni(OH)<tspan font-size="14.5" dy="5.6">2</tspan></text>
<line x1="440.00" y1="386.20" x2="449.80" y2="386.20" stroke="#cc1422" stroke-width="1.7" />
<line x1="458.30" y1="386.20" x2="467.60" y2="386.20" stroke="#cc1422" stroke-width="1.7" />
<circle cx="454.1" cy="386.2" r="3.1" fill="#ee1111"/>
<text transform="translate(472.00,391.00) scale(1,1.08)" font-size="15.2">RGO-Ni(OH)<tspan font-size="14.5" dy="5.6">2</tspan></text>
</svg>
</body></html>
